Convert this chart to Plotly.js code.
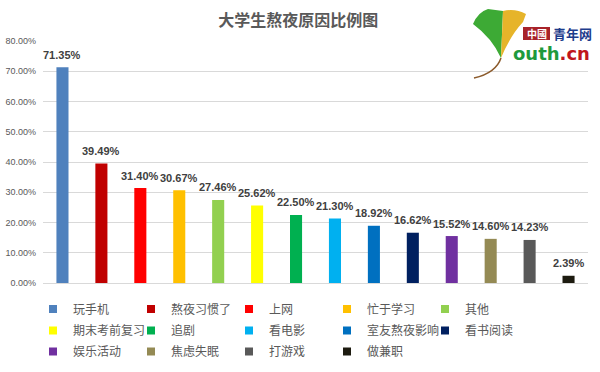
<!DOCTYPE html>
<html>
<head>
<meta charset="utf-8">
<script src="https://cdn.plot.ly/plotly-3.0.1.min.js"></script>
<style>html,body{margin:0;padding:0;background:#fff;}#chart{width:600px;height:372px;}</style>
</head>
<body>
<div id="chart"></div>
<script>
var categories = ['玩手机','熬夜习惯了','上网','忙于学习','其他','期末考前复习','追剧','看电影','室友熬夜影响','看书阅读','娱乐活动','焦虑失眠','打游戏','做兼职'];
var values = [71.35, 39.49, 31.40, 30.67, 27.46, 25.62, 22.50, 21.30, 18.92, 16.62, 15.52, 14.60, 14.23, 2.39];
var colors = ['#4F81BD','#C00000','#FF0000','#FFC000','#92D050','#FFFF00','#00B050','#00B0F0','#0070C0','#002060','#7030A0','#948A54','#595959','#1D1B10'];
var yTicks = [0,10,20,30,40,50,60,70,80];
var legendRows = ['legend','legend','legend','legend','legend','legend2','legend2','legend2','legend2','legend2','legend3','legend3','legend3','legend3'];

var W = 600, H = 372, L = 43, R = 12, T = 41, B = 89;
var pw = W - L - R, ph = H - T - B;
function px(x){ return (x - L) / pw; }
function py(y){ return (H - B - y) / ph; }

var traces = categories.map(function(c, i){
  return {
    type: 'bar', name: c, x: [c], y: [values[i]],
    width: 0.31, showlegend: false,
    marker: {color: colors[i], line: {width: 0}},
    hoverinfo: 'skip'
  };
});
// legend entries (small square swatches like the reference)
categories.forEach(function(c, i){
  traces.push({
    type: 'scatter', mode: 'markers', name: c, x: [null], y: [null],
    legend: legendRows[i], showlegend: true,
    marker: {symbol: 'square', size: 8, color: colors[i]},
    hoverinfo: 'skip'
  });
});

var annotations = categories.map(function(c, i){
  return {
    x: c, y: values[i], xref: 'x', yref: 'y',
    text: values[i].toFixed(2) + '%',
    showarrow: false, yanchor: 'middle', yshift: 12.5,
    font: {family: 'Liberation Sans, Arial, sans-serif', size: 11, color: '#404040', weight: 'bold'}
  };
});

// logo decoration
annotations.push({
  xref: 'paper', yref: 'paper', x: px(536.5), y: py(33.5), text: '中國',
  showarrow: false, xanchor: 'center', yanchor: 'middle',
  font: {family: 'Noto Sans CJK SC', size: 10, color: '#ffffff', weight: 'bold'}
});
annotations.push({
  xref: 'paper', yref: 'paper', x: px(572), y: py(33.5), text: '青年网',
  showarrow: false, xanchor: 'center', yanchor: 'middle',
  font: {family: 'Noto Sans CJK SC', size: 13, color: '#1E3C8C', weight: 'bold'}
});
annotations.push({
  xref: 'paper', yref: 'paper', x: px(551), y: py(53.5),
  text: '<span style="color:#1E9A3C">outh</span><span style="color:#C0161C">.cn</span>',
  showarrow: false, xanchor: 'center', yanchor: 'middle',
  font: {family: 'DejaVu Sans', size: 18, color: '#1E9A3C', weight: 'bold'}
});

var shapes = [
  {type: 'path', xref: 'paper', yref: 'paper', layer: 'above',
   path: 'M' + px(473) + ',' + py(24) + ' Q' + px(478) + ',' + py(12) + ' ' + px(488) + ',' + py(9) +
         ' L' + px(503) + ',' + py(11) + ' L' + px(501) + ',' + py(58) + ' Q' + px(492) + ',' + py(38) + ' ' + px(473) + ',' + py(24) + ' Z',
   fillcolor: '#3DAA35', line: {width: 0}},
  {type: 'path', xref: 'paper', yref: 'paper', layer: 'above',
   path: 'M' + px(501) + ',' + py(58) + ' L' + px(503) + ',' + py(11) + ' Q' + px(515) + ',' + py(8) + ' ' + px(526) + ',' + py(14) +
         ' L' + px(523) + ',' + py(22) + ' Q' + px(510) + ',' + py(36) + ' ' + px(501) + ',' + py(58) + ' Z',
   fillcolor: '#E6B42A', line: {width: 0}},
  {type: 'path', xref: 'paper', yref: 'paper', layer: 'above',
   path: 'M' + px(501) + ',' + py(58) + ' Q' + px(496) + ',' + py(73) + ' ' + px(474) + ',' + py(78),
   line: {color: '#8B5A2B', width: 1.5}},
  {type: 'rect', xref: 'paper', yref: 'paper', layer: 'above',
   x0: px(523), x1: px(550), y0: py(27), y1: py(40),
   fillcolor: '#A8232A', line: {width: 0}}
];

function legendRow(topPx){
  return {
    orientation: 'h', x: px(33), xanchor: 'left', y: py(topPx), yanchor: 'top',
    entrywidth: 53, entrywidthmode: 'pixels', traceorder: 'normal',
    font: {family: 'Noto Sans CJK SC', size: 12, color: '#595959'},
    bgcolor: 'rgba(0,0,0,0)', borderwidth: 0, tracegroupgap: 0
  };
}

var layout = {
  width: W, height: H,
  margin: {l: L, r: R, t: T, b: B, pad: 0, autoexpand: false},
  paper_bgcolor: '#ffffff', plot_bgcolor: '#ffffff',
  barmode: 'overlay',
  showlegend: true,
  title: {
    text: '大学生熬夜原因比例图', x: 0.497, xanchor: 'center', y: 1 - 20/H, yanchor: 'middle', yref: 'container',
    font: {family: 'Noto Sans CJK SC', size: 16, color: '#595959', weight: 'bold'}
  },
  xaxis: {
    type: 'category', categoryorder: 'array', categoryarray: categories,
    range: [-0.5, 13.5], showticklabels: false, ticks: '', showgrid: false, zeroline: false,
    showline: true, linecolor: '#D9D9D9', linewidth: 1, fixedrange: true
  },
  yaxis: {
    range: [0, 80], tickvals: yTicks, ticktext: yTicks.map(function(v){ return v.toFixed(2) + '%'; }),
    showgrid: true, gridcolor: '#D9D9D9', gridwidth: 1, zeroline: false, showline: false,
    ticks: '', ticklabelstandoff: 6,
    tickfont: {family: 'Liberation Sans, Arial, sans-serif', size: 9, color: '#595959'},
    fixedrange: true
  },
  legend: legendRow(294.5),
  legend2: legendRow(316),
  legend3: legendRow(337),
  annotations: annotations,
  shapes: shapes
};

Plotly.newPlot('chart', traces, layout, {displayModeBar: false, staticPlot: true});
</script>
</body>
</html>
